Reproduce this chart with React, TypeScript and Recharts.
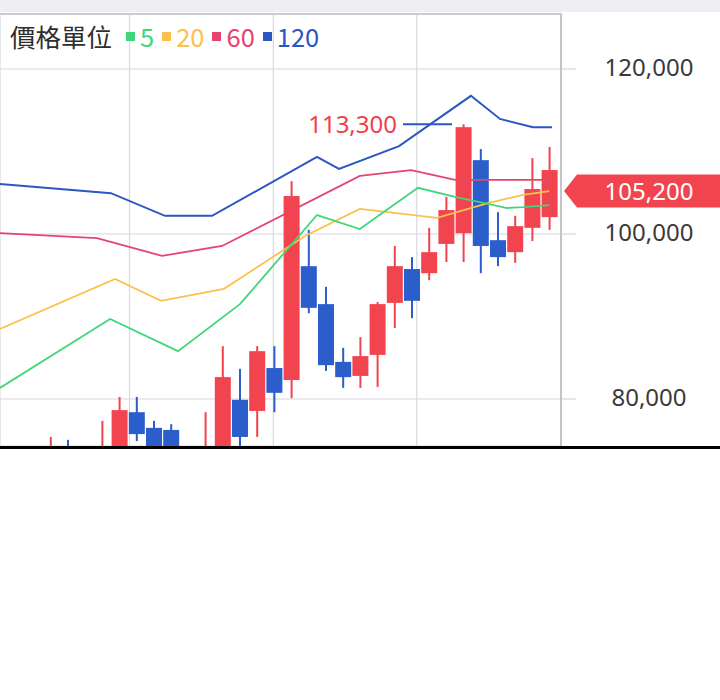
import React from 'react';
import { ComposedChart, Bar, Line, XAxis, YAxis, CartesianGrid, ReferenceLine } from 'recharts';

// ---- candle data (index k, OHLC) ----
const candleK = [-2, -1, 0, 1, 2, 3, 4, 5, 6, 7, 8, 9, 10, 11, 12, 13, 14, 15, 16, 17, 18, 19, 20, 21, 22, 23, 24, 25, 26, 27, 28, 29];
const opens = [null, null, 73200, 74100, null, 73000, 73800, 78400, 76500, 76250, null, 73500, 74000, 79900, 78550, 83750, 82300, 96100, 91500, 84500, 82800, 85350, 91650, 95750, 95250, 98800, 100100, 108950, 99250, 97800, 100750, 102050];
const highs = [null, null, 75400, 75050, null, 77350, 80250, 80250, 77350, 76950, null, 78400, 86400, 83650, 86400, 86400, 106400, 100500, 93600, 86200, 87500, 91750, 98550, 97200, 100750, 104500, 113300, 110300, 102650, 102200, 109200, 110550];
const lows = [null, null, 72800, 73000, null, 72500, 73000, 74900, 73500, 73400, null, 73000, 73500, 74000, 75400, 78400, 80100, 90400, 83400, 81350, 81350, 81450, 88600, 89800, 94400, 96600, 96600, 95250, 96100, 96500, 99150, 100500];
const closes = [null, null, 74000, 73400, null, 74000, 78650, 75750, 74000, 73900, null, 74200, 82650, 75400, 85800, 80750, 104600, 91050, 84100, 82650, 85200, 91500, 96100, 91900, 97800, 102900, 112950, 98550, 97200, 100950, 105450, 107750];

// ---- moving averages (x in candle-index units) ----
const ma5K = [-2.93, 3.47, 7.42, 11.02, 15.5, 17.99, 21.37, 23.52, 25.44, 26.55, 27.48, 29.0];
const ma5V = [81350, 89700, 85800, 91500, 102300, 100600, 105600, 104500, 103650, 103150, 103250, 103500];
const ma20K = [-2.93, 3.76, 6.43, 10.09, 14.8, 17.99, 22.48, 25.44, 27.48, 29.0];
const ma20V = [88500, 94550, 91900, 93350, 99750, 103050, 101950, 103750, 104750, 105200];
const ma60K = [-2.93, 2.71, 6.49, 9.98, 17.99, 20.97, 23.53, 29.0];
const ma60V = [100100, 99500, 97350, 98550, 107050, 107750, 106550, 106550];
const ma120K = [-2.93, 3.52, 6.66, 9.4, 15.5, 16.78, 20.27, 24.45, 26.14, 28.06, 29.16];
const ma120V = [106050, 104950, 102200, 102200, 109350, 107900, 110650, 116750, 113950, 112950, 112950];

// ---- axes ----
const yTicks = [80000, 100000, 120000];
const yDomain = [74303, 126667];
const xDomain = [-2.9302, 29.686];
const xGridTicks = [4.6, 12.96, 21.3];
const lastPrice = 105200;
const maxPrice = 113300;
const maxSegK = [20.5, 23.35];

const legendTitle = '價格單位';
const legendLabels = ['5', '20', '60', '120'];

const RED = '#f2444f';
const BLUE = '#2b5dcb';
const C5 = '#42d67a';
const C20 = '#fbc14c';
const C60 = '#e6446e';
const C120 = '#2c56c2';
const legendColors = [C5, C20, C60, C120];
const FONT = "'Noto Sans', 'Noto Sans CJK TC', sans-serif";

const rows = candleK.map((k, i) => ({ k, open: opens[i], high: highs[i], low: lows[i], close: closes[i] }));
const mk = (ks: number[], vs: number[]) => ks.map((k, i) => ({ k, v: vs[i] }));
const ma5 = mk(ma5K, ma5V);
const ma20 = mk(ma20K, ma20V);
const ma60 = mk(ma60K, ma60V);
const ma120 = mk(ma120K, ma120V);

function Candle(props: any) {
  const { x, y, width, height, payload } = props;
  if (!payload || payload.open == null || payload.high == null) return <g />;
  const { open, high, low, close } = payload;
  const up = close >= open;
  const color = up ? RED : BLUE;
  const span = high - low || 1;
  const py = (v: number) => y + ((high - v) / span) * height;
  const top = py(Math.max(open, close));
  const bot = py(Math.min(open, close));
  const cx = x + width / 2;
  return (
    <g>
      <rect x={cx - 1} y={y} width={2} height={Math.max(height, 0)} fill={color} />
      <rect x={x} y={top} width={width} height={Math.max(bot - top, 1)} fill={color} />
    </g>
  );
}

function PriceTick(props: any) {
  const { x, y, payload } = props;
  return (
    <text x={x + 73} y={y + 7} textAnchor="middle" fontSize={24} fontFamily={FONT} fill="#3a3a3a">
      {Number(payload.value).toLocaleString('en-US')}
    </text>
  );
}

function TagLabel(props: any) {
  const vb = props.viewBox || {};
  const tip = (vb.x || 0) + (vb.width || 0) + 3;
  const y = vb.y || 0;
  const h = 16.5;
  const pts = `${tip},${y} ${tip + 13},${y - h} 720,${y - h} 720,${y + h} ${tip + 13},${y + h}`;
  return (
    <g>
      <polygon points={pts} fill={RED} />
      <text x={649} y={y + 8.5} textAnchor="middle" fontSize={24} fontFamily={FONT} fill="#ffffff">
        {lastPrice.toLocaleString('en-US')}
      </text>
    </g>
  );
}

function MaxLabel(props: any) {
  const vb = props.viewBox || {};
  return (
    <text x={(vb.x || 0) - 6} y={(vb.y || 0) + 8.5} textAnchor="end" fontSize={24} fontFamily={FONT} fill="#ee3f4a">
      {maxPrice.toLocaleString('en-US')}
    </text>
  );
}

export default function App() {
  return (
    <div style={{ position: 'absolute', left: 0, top: 0, width: 720, height: 700, background: '#ffffff', overflow: 'hidden' }}>
      <div style={{ position: 'absolute', left: 0, top: 0 }}>
        <ComposedChart width={720} height={446} data={rows} margin={{ top: 14, right: 0, bottom: 0, left: 0 }}>
          <XAxis xAxisId="c" dataKey="k" type="category" hide padding={{ left: 7.4, right: 3.2 }} />
          <XAxis xAxisId="n" dataKey="k" type="number" hide domain={xDomain} allowDataOverflow ticks={xGridTicks} interval={0} />
          <YAxis
            yAxisId="p"
            orientation="right"
            domain={yDomain}
            allowDataOverflow
            ticks={yTicks}
            interval={0}
            width={159}
            tickSize={15}
            tickMargin={0}
            axisLine={{ stroke: '#c4c4ce', strokeWidth: 2 }}
            tickLine={{ stroke: '#cdcdd6' }}
            tick={PriceTick}
          />
          <CartesianGrid xAxisId="n" yAxisId="p" stroke="#d8d8e0" strokeWidth={1.2} />
          <Line xAxisId="n" yAxisId="p" data={ma120} dataKey="v" type="linear" stroke={C120} strokeWidth={2} dot={false} activeDot={false} isAnimationActive={false} />
          <Line xAxisId="n" yAxisId="p" data={ma60} dataKey="v" type="linear" stroke={C60} strokeWidth={1.8} dot={false} activeDot={false} isAnimationActive={false} />
          <Line xAxisId="n" yAxisId="p" data={ma20} dataKey="v" type="linear" stroke={C20} strokeWidth={1.8} dot={false} activeDot={false} isAnimationActive={false} />
          <Line xAxisId="n" yAxisId="p" data={ma5} dataKey="v" type="linear" stroke={C5} strokeWidth={1.8} dot={false} activeDot={false} isAnimationActive={false} />
          <Bar
            xAxisId="c"
            yAxisId="p"
            dataKey={(d: any) => (d.low == null ? null : [d.low, d.high])}
            barSize={16}
            shape={Candle}
            isAnimationActive={false}
          />
          <ReferenceLine
            xAxisId="n"
            yAxisId="p"
            segment={[{ x: maxSegK[0], y: maxPrice }, { x: maxSegK[1], y: maxPrice }]}
            stroke={C120}
            strokeWidth={2}
            label={<MaxLabel />}
          />
          <ReferenceLine xAxisId="n" yAxisId="p" y={lastPrice} stroke="none" label={<TagLabel />} />
        </ComposedChart>
      </div>
      <div style={{ position: 'absolute', left: 0, top: 0, width: 720, height: 12, background: '#eeeef3' }} />
      <div style={{ position: 'absolute', left: 0, top: 12.5, width: 562, height: 2, background: '#cbcbd5' }} />
      <div style={{ position: 'absolute', left: 0, top: 446, width: 720, height: 3, background: '#000000' }} />
      <div
        style={{
          position: 'absolute',
          left: 10,
          top: 21,
          height: 30,
          lineHeight: '30px',
          display: 'flex',
          alignItems: 'center',
          fontFamily: "'Noto Sans CJK TC', 'Noto Sans', sans-serif",
          fontSize: 25.5,
          whiteSpace: 'nowrap',
        }}
      >
        <span style={{ color: '#2e2e2e', marginRight: 14 }}>{legendTitle}</span>
        {legendLabels.map((lab, i) => (
          <React.Fragment key={lab}>
            <span style={{ display: 'inline-block', width: 9, height: 9, background: legendColors[i], marginRight: 5 }} />
            <span style={{ color: legendColors[i], marginRight: 8 }}>{lab}</span>
          </React.Fragment>
        ))}
      </div>
    </div>
  );
}
